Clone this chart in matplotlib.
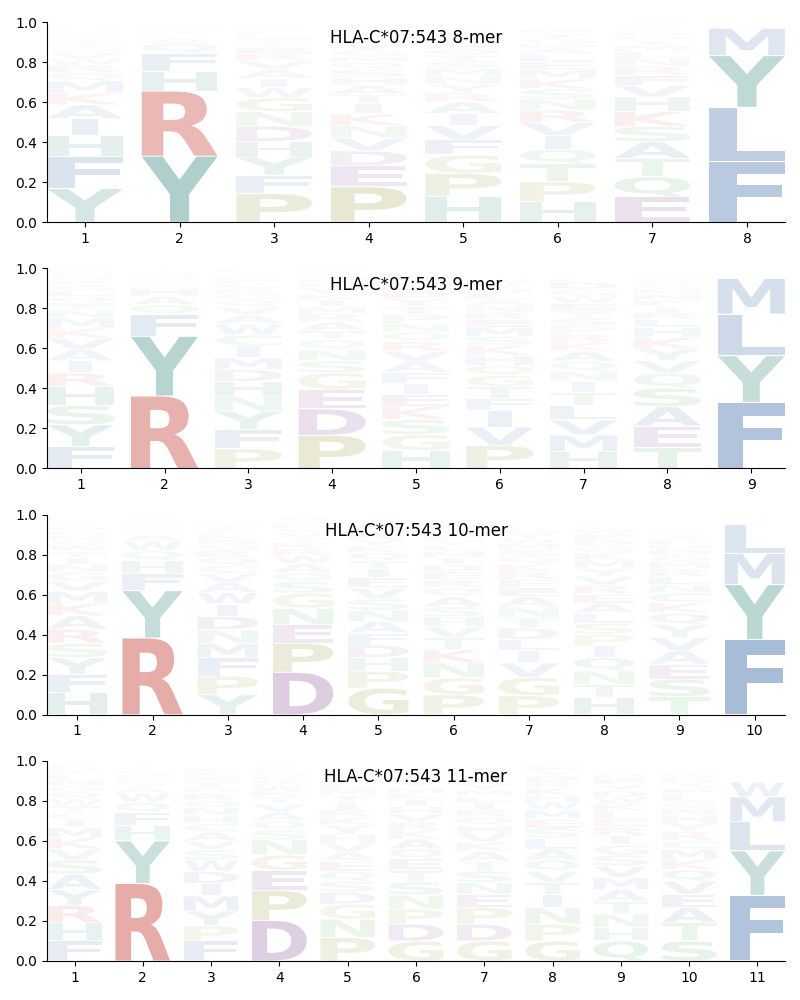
import matplotlib
matplotlib.use("Agg")
import matplotlib.pyplot as plt
from matplotlib.textpath import TextPath
from matplotlib.patches import PathPatch
from matplotlib.font_manager import FontProperties
from matplotlib.transforms import Affine2D

ALLELE = "HLA-C*07:543"

# letter frequencies per position
MER8 = [
    [("Y", .168), ("F", .158), ("H", .105), ("I", .085), ("A", .07), ("K", .06), ("M", .06), ("Q", .04), ("R", .04), ("W", .03),
     ("V", .03), ("N", .02), ("S", .02), ("T", .02), ("G", .015), ("L", .015), ("E", .01), ("D", .01), ("P", .01), ("C", .01)],
    [("Y", .33), ("R", .325), ("H", .10), ("F", .09), ("Q", .05), ("A", .025), ("S", .015), ("K", .015), ("M", .01), ("W", .01),
     ("N", .01), ("L", .01)],
    [("P", .143), ("F", .092), ("Y", .09), ("H", .078), ("D", .077), ("N", .072), ("G", .07), ("W", .05), ("I", .046), ("A", .045),
     ("V", .044), ("R", .035), ("E", .03), ("S", .025), ("T", .02), ("M", .02), ("L", .015), ("Q", .015), ("K", .015), ("C", .01)],
    [("P", .177), ("E", .105), ("D", .075), ("V", .065), ("N", .06), ("K", .06), ("I", .052), ("T", .045), ("A", .045), ("H", .04),
     ("S", .04), ("Q", .035), ("M", .03), ("G", .03), ("Y", .03), ("R", .02), ("L", .02), ("F", .015), ("W", .01), ("C", .01)],
    [("H", .127), ("P", .117), ("G", .092), ("F", .075), ("V", .072), ("I", .06), ("A", .058), ("R", .045), ("Y", .042), ("N", .04),
     ("M", .04), ("S", .035), ("T", .03), ("Q", .03), ("E", .025), ("D", .02), ("K", .02), ("L", .02), ("W", .01), ("C", .01)],
    [("H", .102), ("P", .10), ("T", .09), ("Q", .072), ("I", .068), ("V", .066), ("R", .062), ("N", .055), ("S", .05), ("K", .05),
     ("M", .048), ("E", .04), ("L", .035), ("A", .03), ("D", .025), ("G", .025), ("Y", .025), ("F", .02), ("W", .015), ("C", .01)],
    [("E", .127), ("Q", .10), ("T", .092), ("A", .083), ("S", .077), ("K", .075), ("H", .072), ("V", .058), ("F", .05), ("R", .045),
     ("N", .04), ("L", .035), ("M", .03), ("I", .025), ("G", .02), ("D", .02), ("Y", .015), ("P", .015), ("W", .01), ("C", .01)],
    [("F", .302), ("L", .272), ("Y", .258), ("M", .137), ("W", .01), ("I", .008), ("V", .006)],
]

MER9 = [
    [("F", .11), ("Y", .108), ("S", .097), ("H", .095), ("R", .067), ("I", .06), ("A", .058), ("V", .057), ("K", .05), ("M", .05),
     ("N", .04), ("T", .035), ("Q", .03), ("L", .03), ("G", .025), ("E", .025), ("D", .02), ("W", .015), ("P", .015), ("C", .01)],
    [("R", .362), ("Y", .298), ("F", .108), ("Q", .05), ("A", .042), ("H", .041), ("S", .02), ("K", .015), ("N", .015), ("M", .01),
     ("W", .01), ("L", .01), ("T", .01)],
    [("P", .098), ("F", .096), ("Y", .092), ("N", .075), ("H", .074), ("D", .06), ("M", .059), ("I", .058), ("C", .055), ("W", .055),
     ("A", .045), ("V", .04), ("Q", .035), ("G", .03), ("R", .025), ("S", .025), ("E", .02), ("K", .02), ("T", .015), ("L", .015)],
    [("P", .165), ("D", .133), ("E", .097), ("G", .083), ("S", .06), ("N", .055), ("Q", .05), ("T", .045), ("A", .045), ("R", .04),
     ("M", .035), ("I", .035), ("K", .03), ("V", .03), ("L", .025), ("H", .02), ("Y", .015), ("W", .015), ("F", .012), ("C", .01)],
    [("H", .09), ("G", .08), ("S", .075), ("K", .065), ("E", .06), ("I", .055), ("F", .055), ("A", .055), ("V", .05), ("R", .05),
     ("Q", .045), ("N", .045), ("P", .045), ("T", .04), ("Y", .04), ("D", .04), ("L", .035), ("M", .03), ("W", .015), ("C", .01)],
    [("P", .115), ("V", .092), ("I", .083), ("F", .06), ("T", .058), ("G", .057), ("Q", .05), ("H", .05), ("K", .05), ("S", .045),
     ("M", .045), ("E", .04), ("R", .035), ("N", .035), ("A", .03), ("L", .03), ("D", .025), ("Y", .025), ("W", .02), ("C", .01)],
    [("H", .085), ("M", .083), ("V", .075), ("L", .07), ("T", .068), ("I", .055), ("N", .05), ("Q", .05), ("A", .05), ("K", .045),
     ("R", .04), ("P", .04), ("S", .04), ("Y", .04), ("E", .035), ("W", .035), ("G", .035), ("D", .035), ("F", .02), ("C", .01)],
    [("T", .107), ("E", .105), ("A", .097), ("S", .092), ("Q", .075), ("V", .063), ("Y", .058), ("K", .057), ("H", .052), ("L", .04),
     ("R", .035), ("I", .03), ("F", .03), ("N", .03), ("M", .025), ("G", .02), ("D", .02), ("W", .015), ("P", .01), ("C", .01)],
    [("F", .33), ("Y", .233), ("L", .208), ("M", .178), ("W", .01), ("I", .01), ("V", .01)],
]

MER10 = [
    [("H", .11), ("F", .092), ("Y", .083), ("S", .072), ("R", .07), ("A", .068), ("K", .062), ("M", .06), ("V", .05), ("G", .045),
     ("N", .04), ("I", .035), ("T", .03), ("W", .03), ("Q", .025), ("E", .025), ("L", .02), ("D", .02), ("P", .01), ("C", .01)],
    [("R", .383), ("Y", .237), ("F", .083), ("H", .067), ("Q", .05), ("W", .048), ("A", .03), ("S", .02), ("K", .015), ("M", .015),
     ("N", .01), ("L", .01), ("T", .01)],
    [("Y", .10), ("P", .093), ("F", .092), ("M", .072), ("N", .068), ("D", .066), ("I", .062), ("W", .058), ("A", .05), ("V", .045),
     ("C", .04), ("Q", .04), ("R", .035), ("G", .03), ("E", .025), ("K", .025), ("S", .02), ("T", .02), ("L", .015), ("H", .015)],
    [("D", .212), ("P", .145), ("E", .092), ("N", .083), ("G", .075), ("S", .058), ("Q", .045), ("A", .045), ("W", .04), ("R", .035),
     ("K", .03), ("T", .025), ("V", .025), ("H", .02), ("M", .02), ("L", .015), ("Y", .015), ("I", .01), ("F", .01)],
    [("G", .133), ("P", .085), ("H", .068), ("D", .062), ("F", .06), ("A", .058), ("N", .057), ("S", .056), ("V", .055), ("E", .05),
     ("I", .045), ("T", .04), ("Q", .04), ("K", .035), ("Y", .03), ("R", .03), ("M", .025), ("L", .025), ("W", .02), ("C", .01)],
    [("P", .10), ("G", .085), ("N", .075), ("K", .065), ("T", .06), ("V", .055), ("H", .05), ("S", .05), ("A", .05), ("Q", .045),
     ("R", .04), ("E", .04), ("D", .035), ("I", .035), ("M", .03), ("L", .03), ("Y", .025), ("F", .025), ("W", .02), ("C", .015)],
    [("P", .095), ("G", .092), ("V", .072), ("I", .06), ("L", .058), ("D", .056), ("T", .055), ("N", .052), ("A", .05), ("E", .045),
     ("F", .04), ("R", .04), ("K", .04), ("Q", .035), ("S", .035), ("M", .03), ("W", .025), ("Y", .025), ("H", .02), ("C", .015)],
    [("H", .085), ("T", .068), ("N", .067), ("Q", .066), ("I", .058), ("P", .058), ("S", .055), ("L", .05), ("A", .05), ("E", .045),
     ("R", .045), ("V", .045), ("Y", .04), ("M", .04), ("K", .035), ("G", .035), ("D", .03), ("F", .03), ("W", .025), ("C", .015)],
    [("T", .09), ("S", .088), ("E", .075), ("A", .068), ("V", .066), ("Y", .063), ("Q", .058), ("K", .052), ("C", .05), ("N", .04),
     ("L", .04), ("R", .04), ("M", .035), ("G", .03), ("D", .03), ("H", .025), ("F", .025), ("I", .02), ("W", .015), ("P", .01)],
    [("F", .375), ("Y", .275), ("M", .155), ("L", .145), ("W", .01), ("I", .01), ("V", .01)],
]

MER11 = [
    [("F", .10), ("H", .09), ("R", .088), ("Y", .078), ("A", .077), ("S", .072), ("V", .055), ("K", .055), ("M", .05), ("I", .04),
     ("C", .035), ("T", .035), ("W", .035), ("Q", .035), ("G", .03), ("N", .03), ("L", .025), ("E", .02), ("D", .02), ("P", .01)],
    [("R", .387), ("Y", .213), ("H", .075), ("F", .067), ("Q", .05), ("W", .048), ("A", .03), ("S", .025), ("K", .02), ("M", .02),
     ("N", .015), ("L", .015), ("T", .01), ("V", .01)],
    [("F", .10), ("P", .076), ("Y", .075), ("M", .074), ("I", .062), ("D", .06), ("W", .058), ("S", .05), ("V", .045), ("A", .045),
     ("C", .042), ("H", .04), ("N", .04), ("Q", .035), ("R", .035), ("G", .03), ("T", .03), ("E", .025), ("K", .025), ("L", .02)],
    [("D", .203), ("P", .15), ("E", .10), ("G", .077), ("N", .075), ("S", .05), ("Q", .045), ("A", .045), ("V", .04), ("T", .035),
     ("K", .03), ("W", .03), ("R", .025), ("H", .02), ("M", .02), ("L", .015), ("Y", .015), ("I", .01), ("F", .01)],
    [("P", .117), ("N", .092), ("G", .075), ("D", .06), ("S", .055), ("Q", .05), ("E", .05), ("A", .045), ("V", .045), ("H", .045),
     ("Y", .045), ("K", .04), ("R", .04), ("I", .035), ("T", .035), ("M", .03), ("L", .03), ("F", .025), ("W", .02), ("C", .015)],
    [("G", .10), ("D", .085), ("P", .075), ("N", .07), ("S", .065), ("T", .06), ("E", .055), ("Q", .05), ("A", .05), ("K", .045),
     ("R", .04), ("V", .04), ("H", .035), ("I", .035), ("L", .03), ("M", .03), ("Y", .03), ("F", .025), ("W", .02), ("C", .015)],
    [("G", .10), ("D", .084), ("P", .083), ("E", .067), ("N", .058), ("S", .057), ("T", .05), ("A", .05), ("K", .045), ("V", .045),
     ("H", .04), ("Q", .04), ("R", .04), ("I", .035), ("L", .03), ("M", .03), ("Y", .03), ("F", .025), ("W", .02), ("C", .015)],
    [("G", .10), ("P", .084), ("N", .083), ("I", .067), ("T", .058), ("V", .056), ("Q", .056), ("A", .055), ("L", .055), ("S", .05),
     ("E", .045), ("M", .045), ("W", .04), ("H", .035), ("K", .035), ("R", .03), ("D", .03), ("Y", .025), ("F", .025), ("C", .015)],
    [("Q", .10), ("H", .068), ("N", .067), ("T", .062), ("A", .06), ("M", .06), ("V", .058), ("S", .055), ("G", .05), ("I", .045),
     ("R", .045), ("E", .04), ("L", .04), ("K", .035), ("W", .035), ("D", .03), ("Y", .03), ("F", .03), ("P", .025), ("C", .02)],
    [("S", .10), ("T", .092), ("A", .075), ("E", .066), ("V", .065), ("Q", .058), ("K", .052), ("M", .05), ("C", .045), ("R", .045),
     ("Y", .04), ("H", .04), ("N", .035), ("G", .035), ("L", .035), ("F", .03), ("I", .025), ("D", .025), ("W", .02), ("P", .015)],
    [("F", .328), ("Y", .222), ("L", .145), ("M", .125), ("W", .075), ("I", .012), ("V", .012), ("Q", .008)],
]

PANELS = [("8-mer", MER8), ("9-mer", MER9), ("10-mer", MER10), ("11-mer", MER11)]

# residue colour groups, opacity follows the frequency
GROUPS = {
    "AVLIMFW": (0.09, 0.30, 0.59),
    "YH": (0.04, 0.44, 0.39),
    "KR": (0.75, 0.16, 0.11),
    "DE": (0.40, 0.08, 0.45),
    "PG": (0.48, 0.48, 0.04),
    "NQSTC": (0.12, 0.58, 0.20),
}
COLORS = {aa: c for group, c in GROUPS.items() for aa in group}

FONT = FontProperties(family="DejaVu Sans", weight="bold")
GLYPHS = {}


def draw_letter(ax, ch, x, y0, h, alpha):
    if ch not in GLYPHS:
        GLYPHS[ch] = TextPath((0, 0), ch, size=1, prop=FONT)
    tp = GLYPHS[ch]
    ext = tp.get_extents()
    w = 0.8 * (0.35 if ch == "I" else 1.0)
    pad = 0.0025
    hh = max(h - 2 * pad, 1e-4)
    tr = (Affine2D().translate(-ext.x0, -ext.y0)
          .scale(w / ext.width, hh / ext.height)
          .translate(x - w / 2, y0 + pad))
    ax.add_patch(PathPatch(tr.transform_path(tp), facecolor=COLORS[ch],
                           edgecolor="none", alpha=min(alpha, 1.0)))


fig, axes = plt.subplots(4, 1, figsize=(8, 10), dpi=100)
fig.subplots_adjust(left=0.059, right=0.981, bottom=0.039, top=0.978, hspace=0.23)

for ax, (label, positions) in zip(axes, PANELS):
    n = len(positions)
    for i, column in enumerate(positions, start=1):
        y = 0.0
        for ch, p in sorted(column, key=lambda t: -t[1]):
            draw_letter(ax, ch, i, y, p, p)
            y += p
    ax.set_xlim(0.6, n + 0.4)
    ax.set_ylim(0, 1)
    ax.set_xticks(range(1, n + 1))
    ax.set_yticks([0.0, 0.2, 0.4, 0.6, 0.8, 1.0])
    ax.spines["top"].set_visible(False)
    ax.spines["right"].set_visible(False)
    ax.text(0.5, 0.893, f"{ALLELE} {label}", transform=ax.transAxes,
            ha="center", va="baseline", fontsize=12)

fig.savefig("out.png", dpi=100)
plt.close(fig)
